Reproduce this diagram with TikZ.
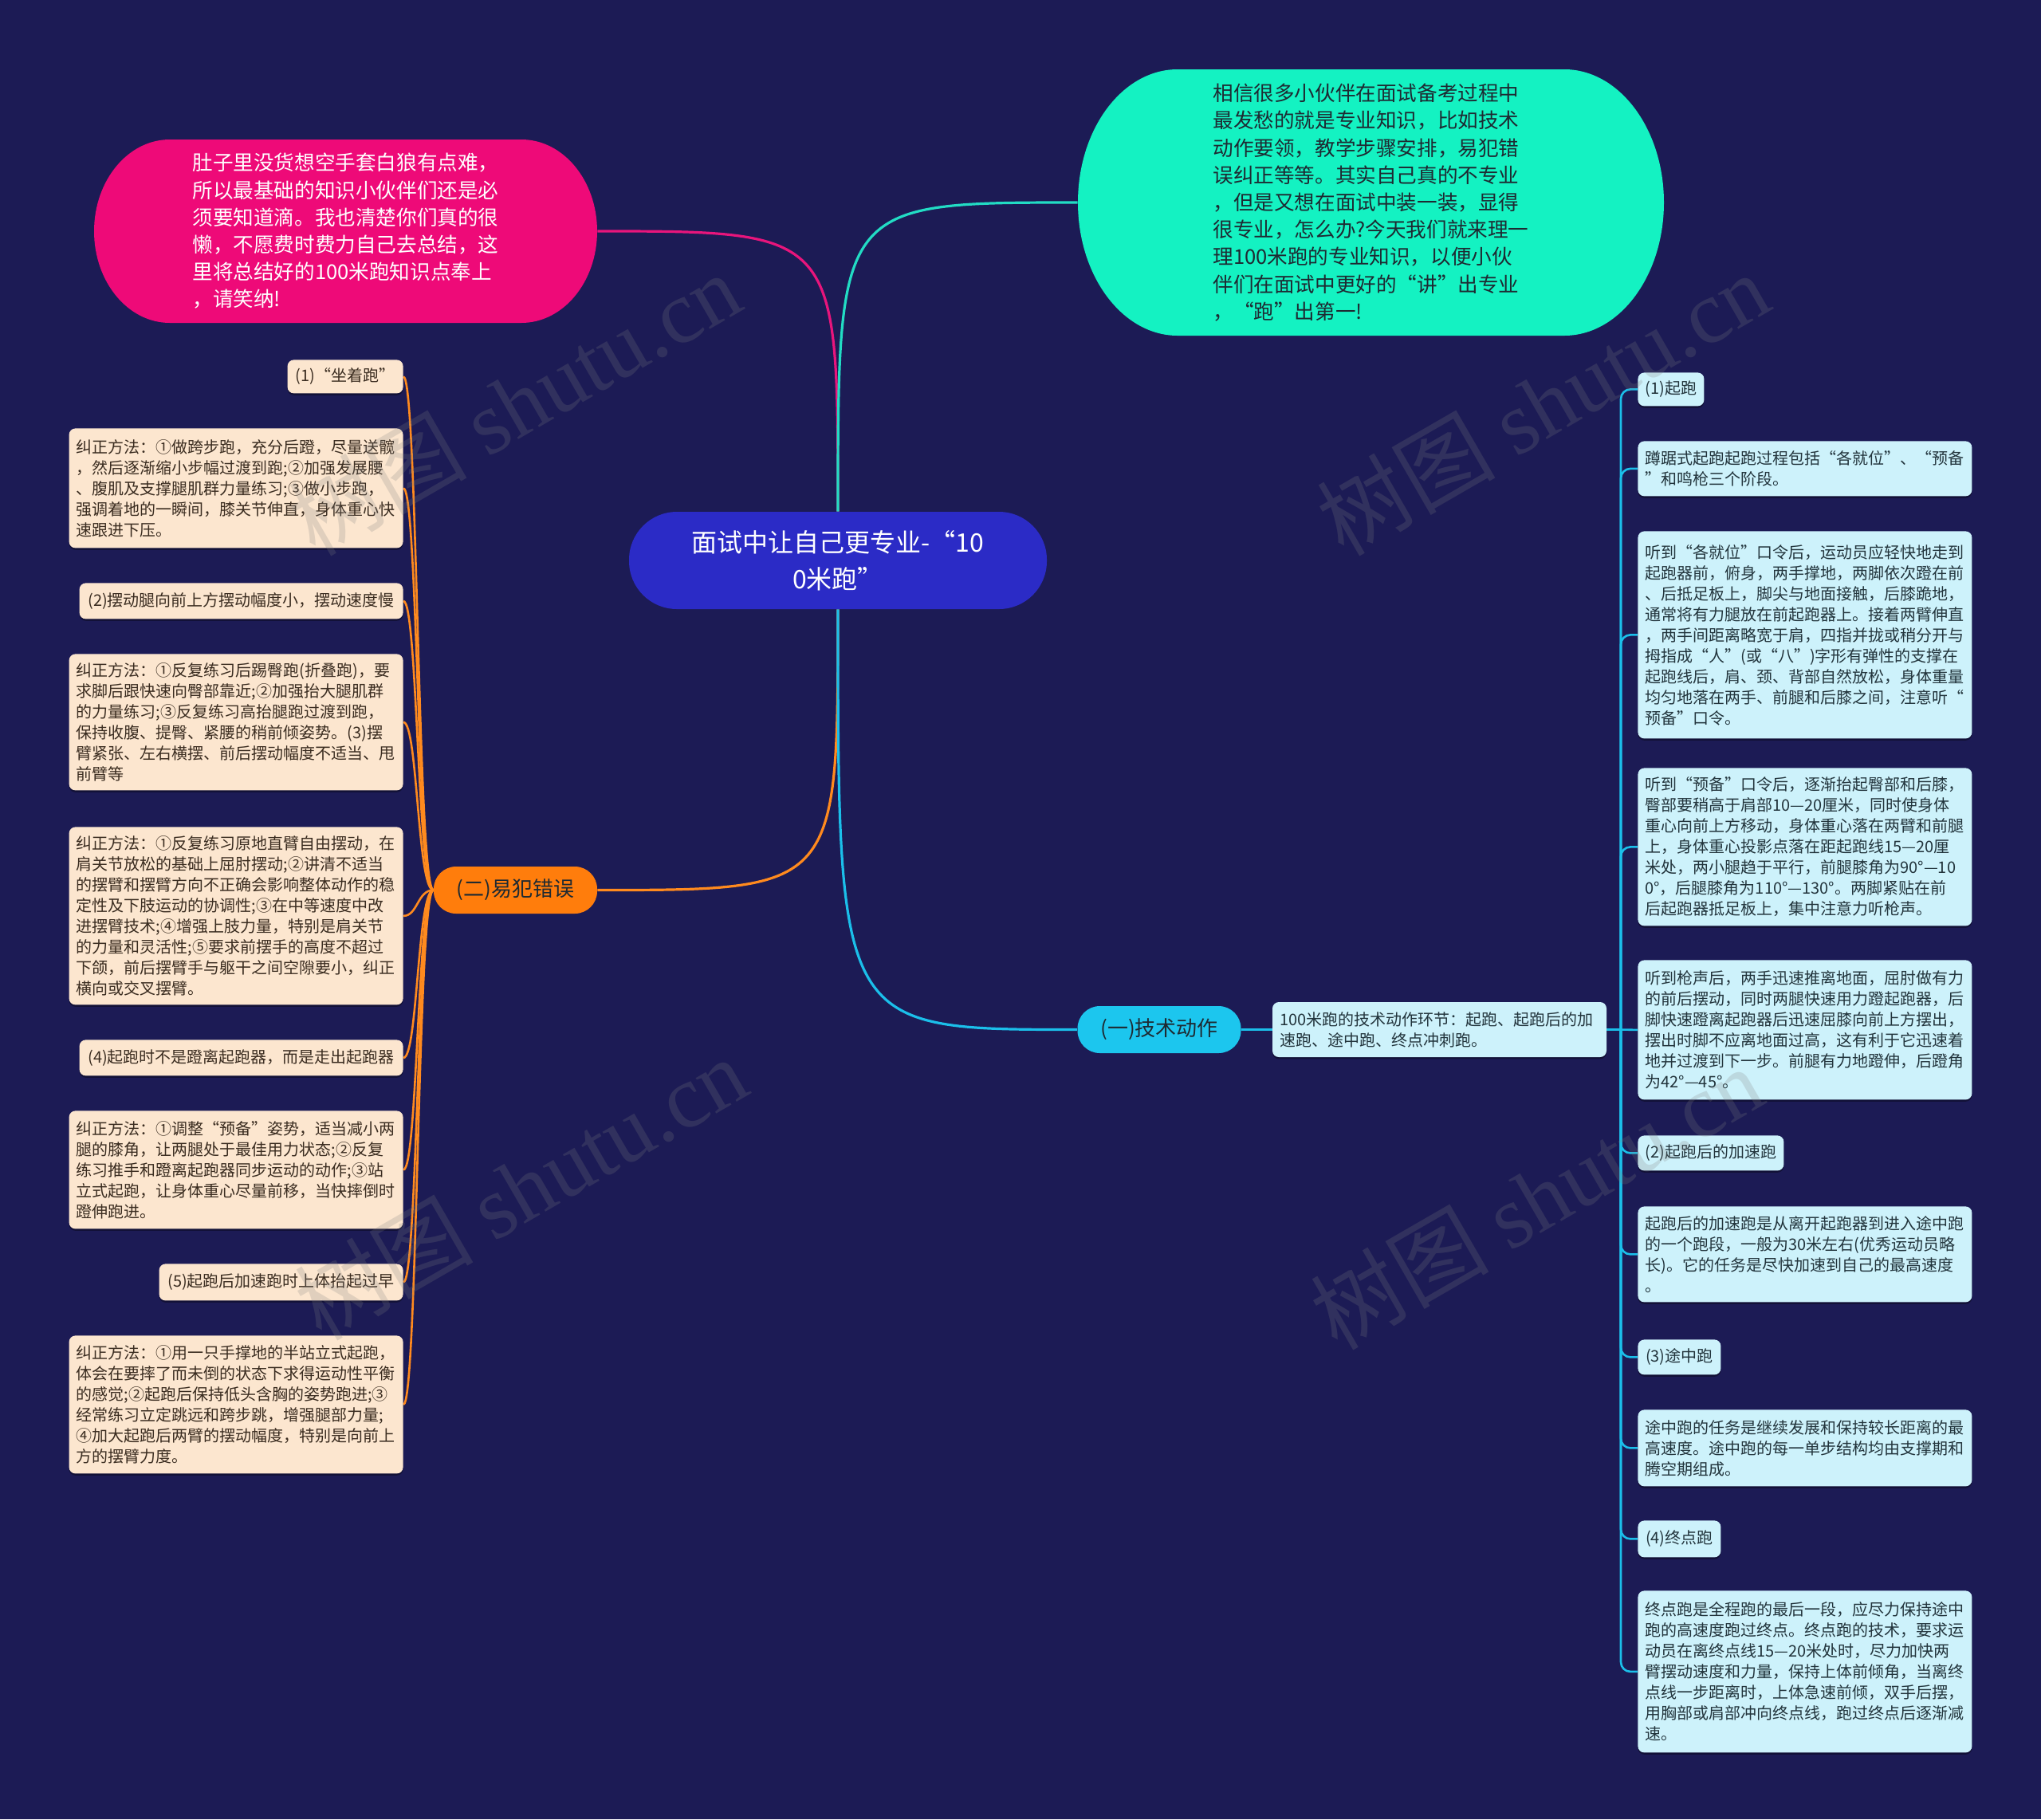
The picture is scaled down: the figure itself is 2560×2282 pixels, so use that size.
\documentclass[tikz,border=0pt]{standalone}
\usepackage{fontspec}
\setmainfont{Noto Sans CJK SC}
\newfontfamily\wmlatin{Liberation Serif}
\usetikzlibrary{calc,shadows}
\definecolor{bgcol}{HTML}{1C1B55}
\definecolor{ctrfill}{HTML}{2B2BC6}
\definecolor{pinkfill}{HTML}{EE0A78}
\definecolor{tealfill}{HTML}{14F2C2}
\definecolor{orfill}{HTML}{FF7D0C}
\definecolor{cyfill}{HTML}{1CC6EE}
\definecolor{lfill}{HTML}{FCE6CF}
\definecolor{rfill}{HTML}{CDF2FB}
\definecolor{ltext}{HTML}{3A2C20}
\definecolor{rtext}{HTML}{22343C}
\definecolor{darktext}{HTML}{1E2A32}
\definecolor{pinkline}{HTML}{E8157C}
\definecolor{tealline}{HTML}{22DCC4}
\definecolor{orline}{HTML}{FF8A1E}
\definecolor{cyline}{HTML}{1BBFEA}
\pgfdeclarelayer{background}
\pgfdeclarelayer{lines}
\pgfdeclarelayer{shapes}
\pgfsetlayers{background,lines,shapes,main}
% x1 y1 x2 y2 rx ry style : rectangle with elliptical corners
\newcommand{\ellrect}[7]{%
\path[#7] ({#1+#5},#2) -- ({#3-#5},#2)
 .. controls ({#3-0.4477*#5},#2) and (#3,{#2+0.4477*#6}) .. (#3,{#2+#6})
 -- (#3,{#4-#6})
 .. controls (#3,{#4-0.4477*#6}) and ({#3-0.4477*#5},#4) .. ({#3-#5},#4)
 -- ({#1+#5},#4)
 .. controls ({#1+0.4477*#5},#4) and (#1,{#4-0.4477*#6}) .. (#1,{#4-#6})
 -- (#1,{#2+#6})
 .. controls (#1,{#2+0.4477*#6}) and ({#1+0.4477*#5},#2) .. cycle;}
\begin{document}
\begin{tikzpicture}[x=0.5pt,y=-0.5pt,
  leafbase/.style={rounded corners=4pt, inner xsep=4.5pt, inner ysep=3pt,
    font=\fontsize{10pt}{13pt}\selectfont,
    drop shadow={shadow xshift=0pt,shadow yshift=-1.2pt,opacity=0.35,fill=black}},
  lleaf/.style={leafbase, fill=lfill, text=ltext, anchor=north east},
  rleaf/.style={leafbase, fill=rfill, text=rtext, anchor=north west},
  wide/.style={text width=200.5pt, align=left},
  short/.style={align=center},
  bigtext/.style={align=left, font=\fontsize{12.8pt}{17.1pt}\selectfont},
  branch/.style={rounded corners=14pt, minimum width=102.5pt, minimum height=29.5pt,
    text=darktext, font=\fontsize{13pt}{16pt}\selectfont, inner sep=0pt},
  orconn/.style={draw=orline, line width=1.3pt},
  cyconn/.style={draw=cyline, line width=1.3pt},
  mainconn/.style={line width=1.6pt},
  wm/.style={text=gray, text opacity=0.22, font=\fontsize{56pt}{60pt}\selectfont, rotate=30}
]
\useasboundingbox (0,0) rectangle (2560,2282);
\begin{pgfonlayer}{background}
\fill[bgcol] (0,0) rectangle (2560,2282);
\end{pgfonlayer}

% ---------- big nodes ----------
\begin{pgfonlayer}{shapes}
\ellrect{118}{175}{749}{405}{95}{115}{fill=pinkfill}
\ellrect{1352}{87}{2087}{421}{125}{167}{fill=tealfill}
\end{pgfonlayer}

\node[bigtext, text=white, minimum width=315.5pt, minimum height=115pt, inner sep=0pt] (pink) at (433.5,290)
{肚子里没货想空手套白狼有点难，\\所以最基础的知识小伙伴们还是必\\须要知道滴。我也清楚你们真的很\\懒，不愿费时费力自己去总结，这\\里将总结好的100米跑知识点奉上\\，请笑纳!};

\node[bigtext, text=darktext, minimum width=367.5pt, minimum height=167pt, inner sep=0pt] (teal) at (1719.5,254)
{相信很多小伙伴在面试备考过程中\\最发愁的就是专业知识，比如技术\\动作要领，教学步骤安排，易犯错\\误纠正等等。其实自己真的不专业\\，但是又想在面试中装一装，显得\\很专业，怎么办?今天我们就来理一\\理100米跑的专业知识，以便小伙\\伴们在面试中更好的“讲”出专业\\，“跑”出第一!};

\node[fill=ctrfill, rounded corners=30pt, minimum width=262pt, minimum height=61pt, inner sep=0pt,
  text=white, align=center, font=\fontsize{16pt}{23pt}\selectfont] (ctr) at (1051,703)
{面试中让自己更专业-“10\\0米跑”};

\node[branch, fill=orfill] (br2) at (646.5,1116.5) {(二)易犯错误};
\node[branch, fill=cyfill] (br1) at (1454,1291.5) {(一)技术动作};

\node[leafbase, fill=rfill, text=rtext, wide, minimum height=34.5pt] (R0) at (1805.5,1291.5)
{100米跑的技术动作环节：起跑、起跑后的加\\速跑、途中跑、终点冲刺跑。};

% ---------- left leaves ----------
\node[lleaf, short, minimum width=72.5pt, minimum height=21pt] (L1) at (506,451) {(1)“坐着跑”};
\node[lleaf, wide, minimum height=75pt] (L2) at (506,537)
{纠正方法：①做跨步跑，充分后蹬，尽量送髋\\，然后逐渐缩小步幅过渡到跑;②加强发展腰\\、腹肌及支撑腿肌群力量练习;③做小步跑，\\强调着地的一瞬间，膝关节伸直，身体重心快\\速跟进下压。};
\node[lleaf, short, minimum width=203pt, minimum height=22.5pt] (L3) at (506,731) {(2)摆动腿向前上方摆动幅度小，摆动速度慢};
\node[lleaf, wide, minimum height=85.5pt] (L4) at (506,820)
{纠正方法：①反复练习后踢臀跑(折叠跑)，要\\求脚后跟快速向臀部靠近;②加强抬大腿肌群\\的力量练习;③反复练习高抬腿跑过渡到跑，\\保持收腹、提臀、紧腰的稍前倾姿势。(3)摆\\臂紧张、左右横摆、前后摆动幅度不适当、甩\\前臂等};
\node[lleaf, wide, minimum height=111.5pt] (L5) at (506,1037)
{纠正方法：①反复练习原地直臂自由摆动，在\\肩关节放松的基础上屈肘摆动;②讲清不适当\\的摆臂和摆臂方向不正确会影响整体动作的稳\\定性及下肢运动的协调性;③在中等速度中改\\进摆臂技术;④增强上肢力量，特别是肩关节\\的力量和灵活性;⑤要求前摆手的高度不超过\\下颌，前后摆臂手与躯干之间空隙要小，纠正\\横向或交叉摆臂。};
\node[lleaf, short, minimum width=203pt, minimum height=22.5pt] (L6) at (506,1304) {(4)起跑时不是蹬离起跑器，而是走出起跑器};
\node[lleaf, wide, minimum height=74pt] (L7) at (506,1393)
{纠正方法：①调整“预备”姿势，适当减小两\\腿的膝角，让两腿处于最佳用力状态;②反复\\练习推手和蹬离起跑器同步运动的动作;③站\\立式起跑，让身体重心尽量前移，当快摔倒时\\蹬伸跑进。};
\node[lleaf, short, minimum width=153pt, minimum height=23pt] (L8) at (506,1585) {(5)起跑后加速跑时上体抬起过早};
\node[lleaf, wide, minimum height=86.5pt] (L9) at (506,1675)
{纠正方法：①用一只手撑地的半站立式起跑，\\体会在要摔了而未倒的状态下求得运动性平衡\\的感觉;②起跑后保持低头含胸的姿势跑进;③\\经常练习立定跳远和跨步跳，增强腿部力量;\\④加大起跑后两臂的摆动幅度，特别是向前上\\方的摆臂力度。};

% ---------- right leaves ----------
\node[rleaf, short, minimum width=41.5pt, minimum height=21pt] (R1) at (2054,467) {(1)起跑};
\node[rleaf, wide, minimum height=34.5pt] (R2) at (2054,553)
{蹲踞式起跑起跑过程包括“各就位”、“预备\\”和鸣枪三个阶段。};
\node[rleaf, wide, minimum height=130pt] (R3) at (2054,666)
{听到“各就位”口令后，运动员应轻快地走到\\起跑器前，俯身，两手撑地，两脚依次蹬在前\\、后抵足板上，脚尖与地面接触，后膝跪地，\\通常将有力腿放在前起跑器上。接着两臂伸直\\，两手间距离略宽于肩，四指并拢或稍分开与\\拇指成“人”(或“八”)字形有弹性的支撑在\\起跑线后，肩、颈、背部自然放松，身体重量\\均匀地落在两手、前腿和后膝之间，注意听“\\预备”口令。};
\node[rleaf, wide, minimum height=99pt] (R4) at (2054,963)
{听到“预备”口令后，逐渐抬起臀部和后膝，\\臀部要稍高于肩部10—20厘米，同时使身体\\重心向前上方移动，身体重心落在两臂和前腿\\上，身体重心投影点落在距起跑线15—20厘\\米处，两小腿趋于平行，前腿膝角为90°—10\\0°，后腿膝角为110°—130°。两脚紧贴在前\\后起跑器抵足板上，集中注意力听枪声。};
\node[rleaf, wide, minimum height=87.5pt] (R5) at (2054,1204)
{听到枪声后，两手迅速推离地面，屈肘做有力\\的前后摆动，同时两腿快速用力蹬起跑器，后\\脚快速蹬离起跑器后迅速屈膝向前上方摆出，\\摆出时脚不应离地面过高，这有利于它迅速着\\地并过渡到下一步。前腿有力地蹬伸，后蹬角\\为42°—45°。};
\node[rleaf, short, minimum width=91.5pt, minimum height=22pt] (R6) at (2054,1424) {(2)起跑后的加速跑};
\node[rleaf, wide, minimum height=60pt] (R7) at (2054,1513)
{起跑后的加速跑是从离开起跑器到进入途中跑\\的一个跑段，一般为30米左右(优秀运动员略\\长)。它的任务是尽快加速到自己的最高速度\\。};
\node[rleaf, short, minimum width=52pt, minimum height=22pt] (R8) at (2054,1680) {(3)途中跑};
\node[rleaf, wide, minimum height=48pt] (R9) at (2054,1768)
{途中跑的任务是继续发展和保持较长距离的最\\高速度。途中跑的每一单步结构均由支撑期和\\腾空期组成。};
\node[rleaf, short, minimum width=52pt, minimum height=23pt] (R10) at (2054,1907) {(4)终点跑};
\node[rleaf, wide, minimum height=101.5pt] (R11) at (2054,1995)
{终点跑是全程跑的最后一段，应尽力保持途中\\跑的高速度跑过终点。终点跑的技术，要求运\\动员在离终点线15—20米处时，尽力加快两\\臂摆动速度和力量，保持上体前倾角，当离终\\点线一步距离时，上体急速前倾，双手后摆，\\用胸部或肩部冲向终点线，跑过终点后逐渐减\\速。};

\coordinate (rb) at (2033,1291.5);

% ---------- connectors ----------
\begin{pgfonlayer}{lines}
\draw[mainconn, pinkline] (ctr.north) .. controls (ctr.north |- pink.east) .. (pink.east);
\draw[mainconn, tealline] (ctr.north) .. controls (ctr.north |- teal.west) .. (teal.west);
\draw[mainconn, orline] (ctr.south) .. controls (ctr.south |- br2.east) .. (br2.east);
\draw[mainconn, cyline] (ctr.south) .. controls (ctr.south |- br1.west) .. (br1.west);
\foreach \n in {L1,L2,L3,L4,L5,L6,L7,L8,L9}
  \draw[orconn] (br2.west) .. controls ($(br2.west)+(-20,0)$) and ($(\n.east)+(18,0)$) .. (\n.east);
\draw[cyconn] (br1.east) -- (R0.west);
\draw[cyconn] (R0.east) -- (rb);
\foreach \n in {R1,R2,R3,R4,R6,R7,R8,R9,R10,R11}
  \draw[cyconn, rounded corners=6pt] (rb) |- (\n.west);
\draw[cyconn] (rb) -- (R5.west);
\end{pgfonlayer}

% ---------- watermark ----------
\node[wm] (wm1) at (645,506) {树图 {\wmlatin shutu.cn}};
\node[wm] (wm2) at (1935,506) {树图 {\wmlatin shutu.cn}};
\node[wm] (wm3) at (653,1490) {树图 {\wmlatin shutu.cn}};
\node[wm] (wm4) at (1927,1502) {树图 {\wmlatin shutu.cn}};
\end{tikzpicture}
\end{document}
